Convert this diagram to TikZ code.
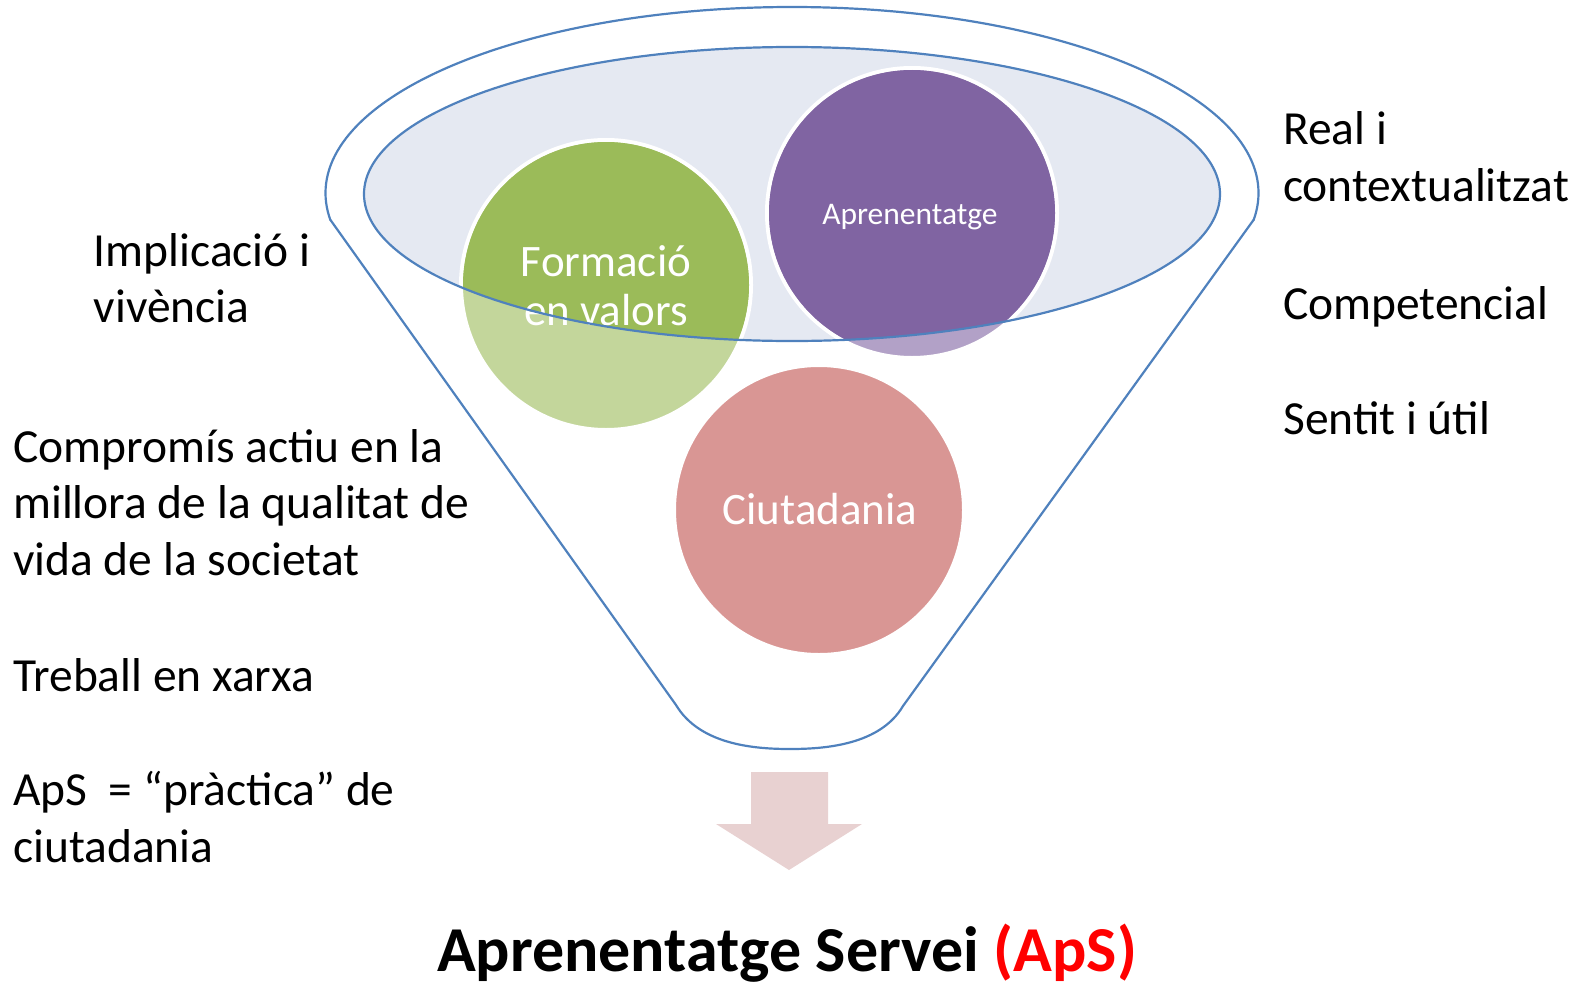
\documentclass[tikz,border=0pt]{standalone}
\usepackage{fontspec}
\setmainfont{Carlito}
\definecolor{funnelblue}{HTML}{4F81BD}
\definecolor{bowlfill}{HTML}{E5E9F2}
\definecolor{greendark}{HTML}{9BBB59}
\definecolor{greenlight}{HTML}{C3D69B}
\definecolor{purpledark}{HTML}{8064A2}
\definecolor{purplelight}{HTML}{B2A1C7}
\definecolor{pinklight}{HTML}{D99694}
\definecolor{arrowpink}{HTML}{E8D1D1}
\begin{document}
\begin{tikzpicture}[x=1pt, y=-1pt,
    ballstyle/.style={circle, draw=white, line width=4pt, minimum size=290pt, inner sep=0pt},
    balltext/.style={text=white, align=center, inner sep=0pt, font=\fontsize{45}{49}\selectfont},
    sidetext/.style={align=left, inner sep=0pt, font=\fontsize{47.5}{56.5}\selectfont},
    funnelline/.style={draw=funnelblue, line width=2.2pt}]
    \useasboundingbox (0,0) rectangle (1595,982);
    % Bowl of the funnel
    \fill[bowlfill] (792,194) ellipse [x radius=428, y radius=147];
    \node[ballstyle, fill=greenlight] (valors) at (606,285) {};
    \node[ballstyle, fill=purplelight] (aprenentatge) at (912,213) {};
    \node[ballstyle, fill=pinklight] (ciutadania) at (819,510) {};
    % Darker where the balls lie in the bowl
    \begin{scope}
        \clip (792,194) ellipse [x radius=428, y radius=147];
        \fill[greendark] (valors.center) circle [radius=143];
        \fill[purpledark] (aprenentatge.center) circle [radius=143];
    \end{scope}
    % Labels of the balls
    \node[balltext, anchor=base] (valorslabel) at (606,325.5) {Formació\\en valors};
    \node[balltext, anchor=base, font=\fontsize{31.5}{35}\selectfont] (aprenentatgelabel) at (910,224) {Aprenentatge};
    \node[balltext, anchor=base] (ciutadanialabel) at (820,524) {Ciutadania};
    % Rim of the bowl
    \draw[funnelline] (792,194) ellipse [x radius=428, y radius=147];
    %%%
    % Funnel outline
    \begin{scope}
        \clip (0,0) rectangle (1595,220);
        \draw[funnelline] (792,193) ellipse [x radius=466.5, y radius=186];
    \end{scope}
    \draw[funnelline, line join=round] (330.5,220) -- (676,705)
        .. controls (700,745) and (755,749) .. (790,749)
        .. controls (825,749) and (880,745) .. (903,706) -- (1253.5,220);
    % Arrow out of the funnel
    \fill[arrowpink] (751,772) -- (828,772) -- (828,824) -- (862,824) -- (789,870) -- (716,824) -- (751,824) -- cycle;
    %%%
    % Texts at the sides (base = last line)
    \node[sidetext, anchor=base west] (implicacio) at (93.5,322.5) {Implicació i\\vivència};
    \node[sidetext, anchor=base west] (compromis) at (13,575) {Compromís actiu en la\\millora de la qualitat de\\vida de la societat};
    \node[sidetext, anchor=base west] (treball) at (13,691.5) {Treball en xarxa};
    \node[sidetext, anchor=base west] (practica) at (13,862) {ApS~ = “pràctica” de\\ciutadania};
    \node[sidetext, anchor=base west] (real) at (1283,201) {Real i\\contextualitzat};
    \node[sidetext, anchor=base west] (competencial) at (1283,319) {Competencial};
    \node[sidetext, anchor=base west] (sentit) at (1283,434) {Sentit i útil};
    % Title
    \node[anchor=base, inner sep=0pt, font=\fontsize{64}{70}\selectfont\bfseries] (titol) at (787,971.5) {Aprenentatge Servei \textcolor{red}{(ApS)}};
\end{tikzpicture}
\end{document}
